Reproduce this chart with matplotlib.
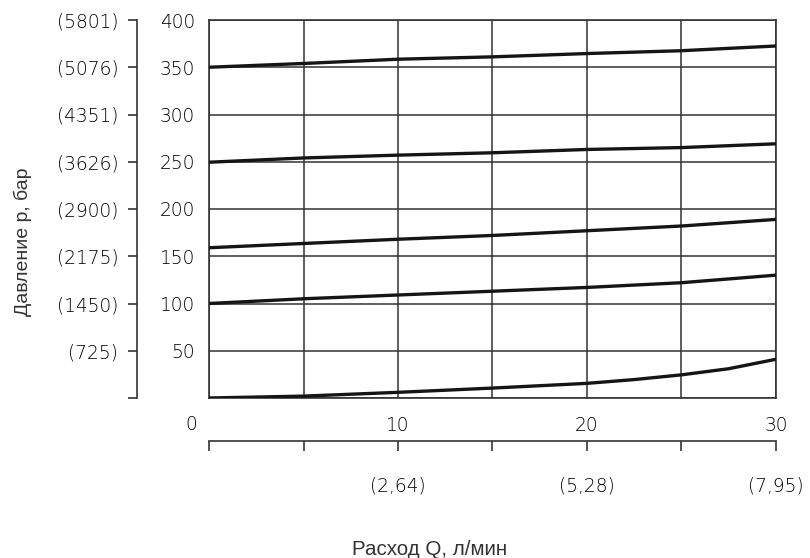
import matplotlib
matplotlib.use("Agg")
import matplotlib.pyplot as plt

# Data
flow_x = [0, 5, 10, 15, 20, 25, 30]
curve_350 = [350, 354, 358.5, 361, 364.5, 367.5, 372.5]
curve_250 = [249.5, 254, 257, 259.5, 263, 265, 269]
curve_160 = [159, 163.5, 168, 172, 177, 182, 189]
curve_100 = [100, 105, 109, 113, 117, 122, 130]
flow_x_low = [0, 5, 10, 15, 17.5, 20, 22.5, 25, 27.5, 30]
curve_0 = [0, 2, 6, 10.5, 13, 15.5, 19.5, 24.5, 31, 41]

bar_ticks = [0, 50, 100, 150, 200, 250, 300, 350, 400]
bar_labels = ["", "50", "100", "150", "200", "250", "300", "350", "400"]
psi_labels = ["", "(725)", "(1450)", "(2175)", "(2900)", "(3626)", "(4351)", "(5076)", "(5801)"]
lpm_ticks = [0, 5, 10, 15, 20, 25, 30]
lpm_labels = ["", "", "10", "", "20", "", "30"]
gpm_labels = ["", "", "(2,64)", "", "(5,28)", "", "(7,95)"]

num_font = "DejaVu Sans"
num_size = 13.4
num_weight = "light"
txt_col = "#000000"
line_col = "#333333"

fig = plt.figure(figsize=(8.10, 5.58), dpi=100)
W, H = 810, 558
left, right, top, bottom = 209, 776, 20, 398
ax = fig.add_axes([left / W, 1 - bottom / H, (right - left) / W, (bottom - top) / H])

for xs, ys in [(flow_x, curve_350), (flow_x, curve_250), (flow_x, curve_160),
               (flow_x, curve_100), (flow_x_low, curve_0)]:
    ax.plot(xs, ys, color="#151515", lw=2.4, solid_capstyle="butt",
            solid_joinstyle="round", zorder=3)

ax.set_xlim(0, 30)
ax.set_ylim(0, 400)
ax.set_xticks(lpm_ticks)
ax.set_yticks(bar_ticks)
ax.grid(True, color=line_col, lw=1.1)
for s in ax.spines.values():
    s.set_color(line_col)
    s.set_linewidth(1.2)
ax.tick_params(axis="both", length=0)
ax.set_yticklabels(bar_labels, fontfamily=num_font, fontsize=num_size, color=txt_col,
                   fontweight=num_weight)
ax.tick_params(axis="y", pad=10)
ax.set_xticklabels(lpm_labels, fontfamily=num_font, fontsize=num_size, color=txt_col,
                   fontweight=num_weight)
ax.tick_params(axis="x", pad=13)

ax.text(-0.032, -0.071, "0", transform=ax.transAxes, ha="center", va="center",
        fontfamily=num_font, fontsize=num_size, color=txt_col, fontweight=num_weight)

# secondary psi axis on the left
sy = ax.secondary_yaxis(location=(137 - left) / (right - left))
sy.set_yticks(bar_ticks)
sy.set_yticklabels(psi_labels, fontfamily=num_font, fontsize=num_size, color=txt_col,
                   fontweight=num_weight)
sy.tick_params(axis="y", direction="out", length=6.5, width=1.2, color=line_col, pad=7)
sy.spines["left"].set_color(line_col)
sy.spines["left"].set_linewidth(1.2)

# secondary gpm axis below
sx = ax.secondary_xaxis(location=(bottom - 441) / (bottom - top))
sx.set_xticks(lpm_ticks)
sx.set_xticklabels(gpm_labels, fontfamily=num_font, fontsize=num_size, color=txt_col,
                   fontweight=num_weight)
sx.tick_params(axis="x", direction="out", length=7.5, width=1.2, color=line_col, pad=18)
sx.spines["bottom"].set_color(line_col)
sx.spines["bottom"].set_linewidth(1.2)

fig.text(23 / W, 1 - 242 / H, "Давление р, бар", rotation=90, ha="center", va="center",
         fontfamily="Liberation Sans", fontsize=14, color="#333333")
fig.text(430 / W, 1 - 555 / H, "Расход Q, л/мин", ha="center", va="baseline",
         fontfamily="Liberation Sans", fontsize=14.8, color="#333333")

fig.savefig("out.png", dpi=100)
